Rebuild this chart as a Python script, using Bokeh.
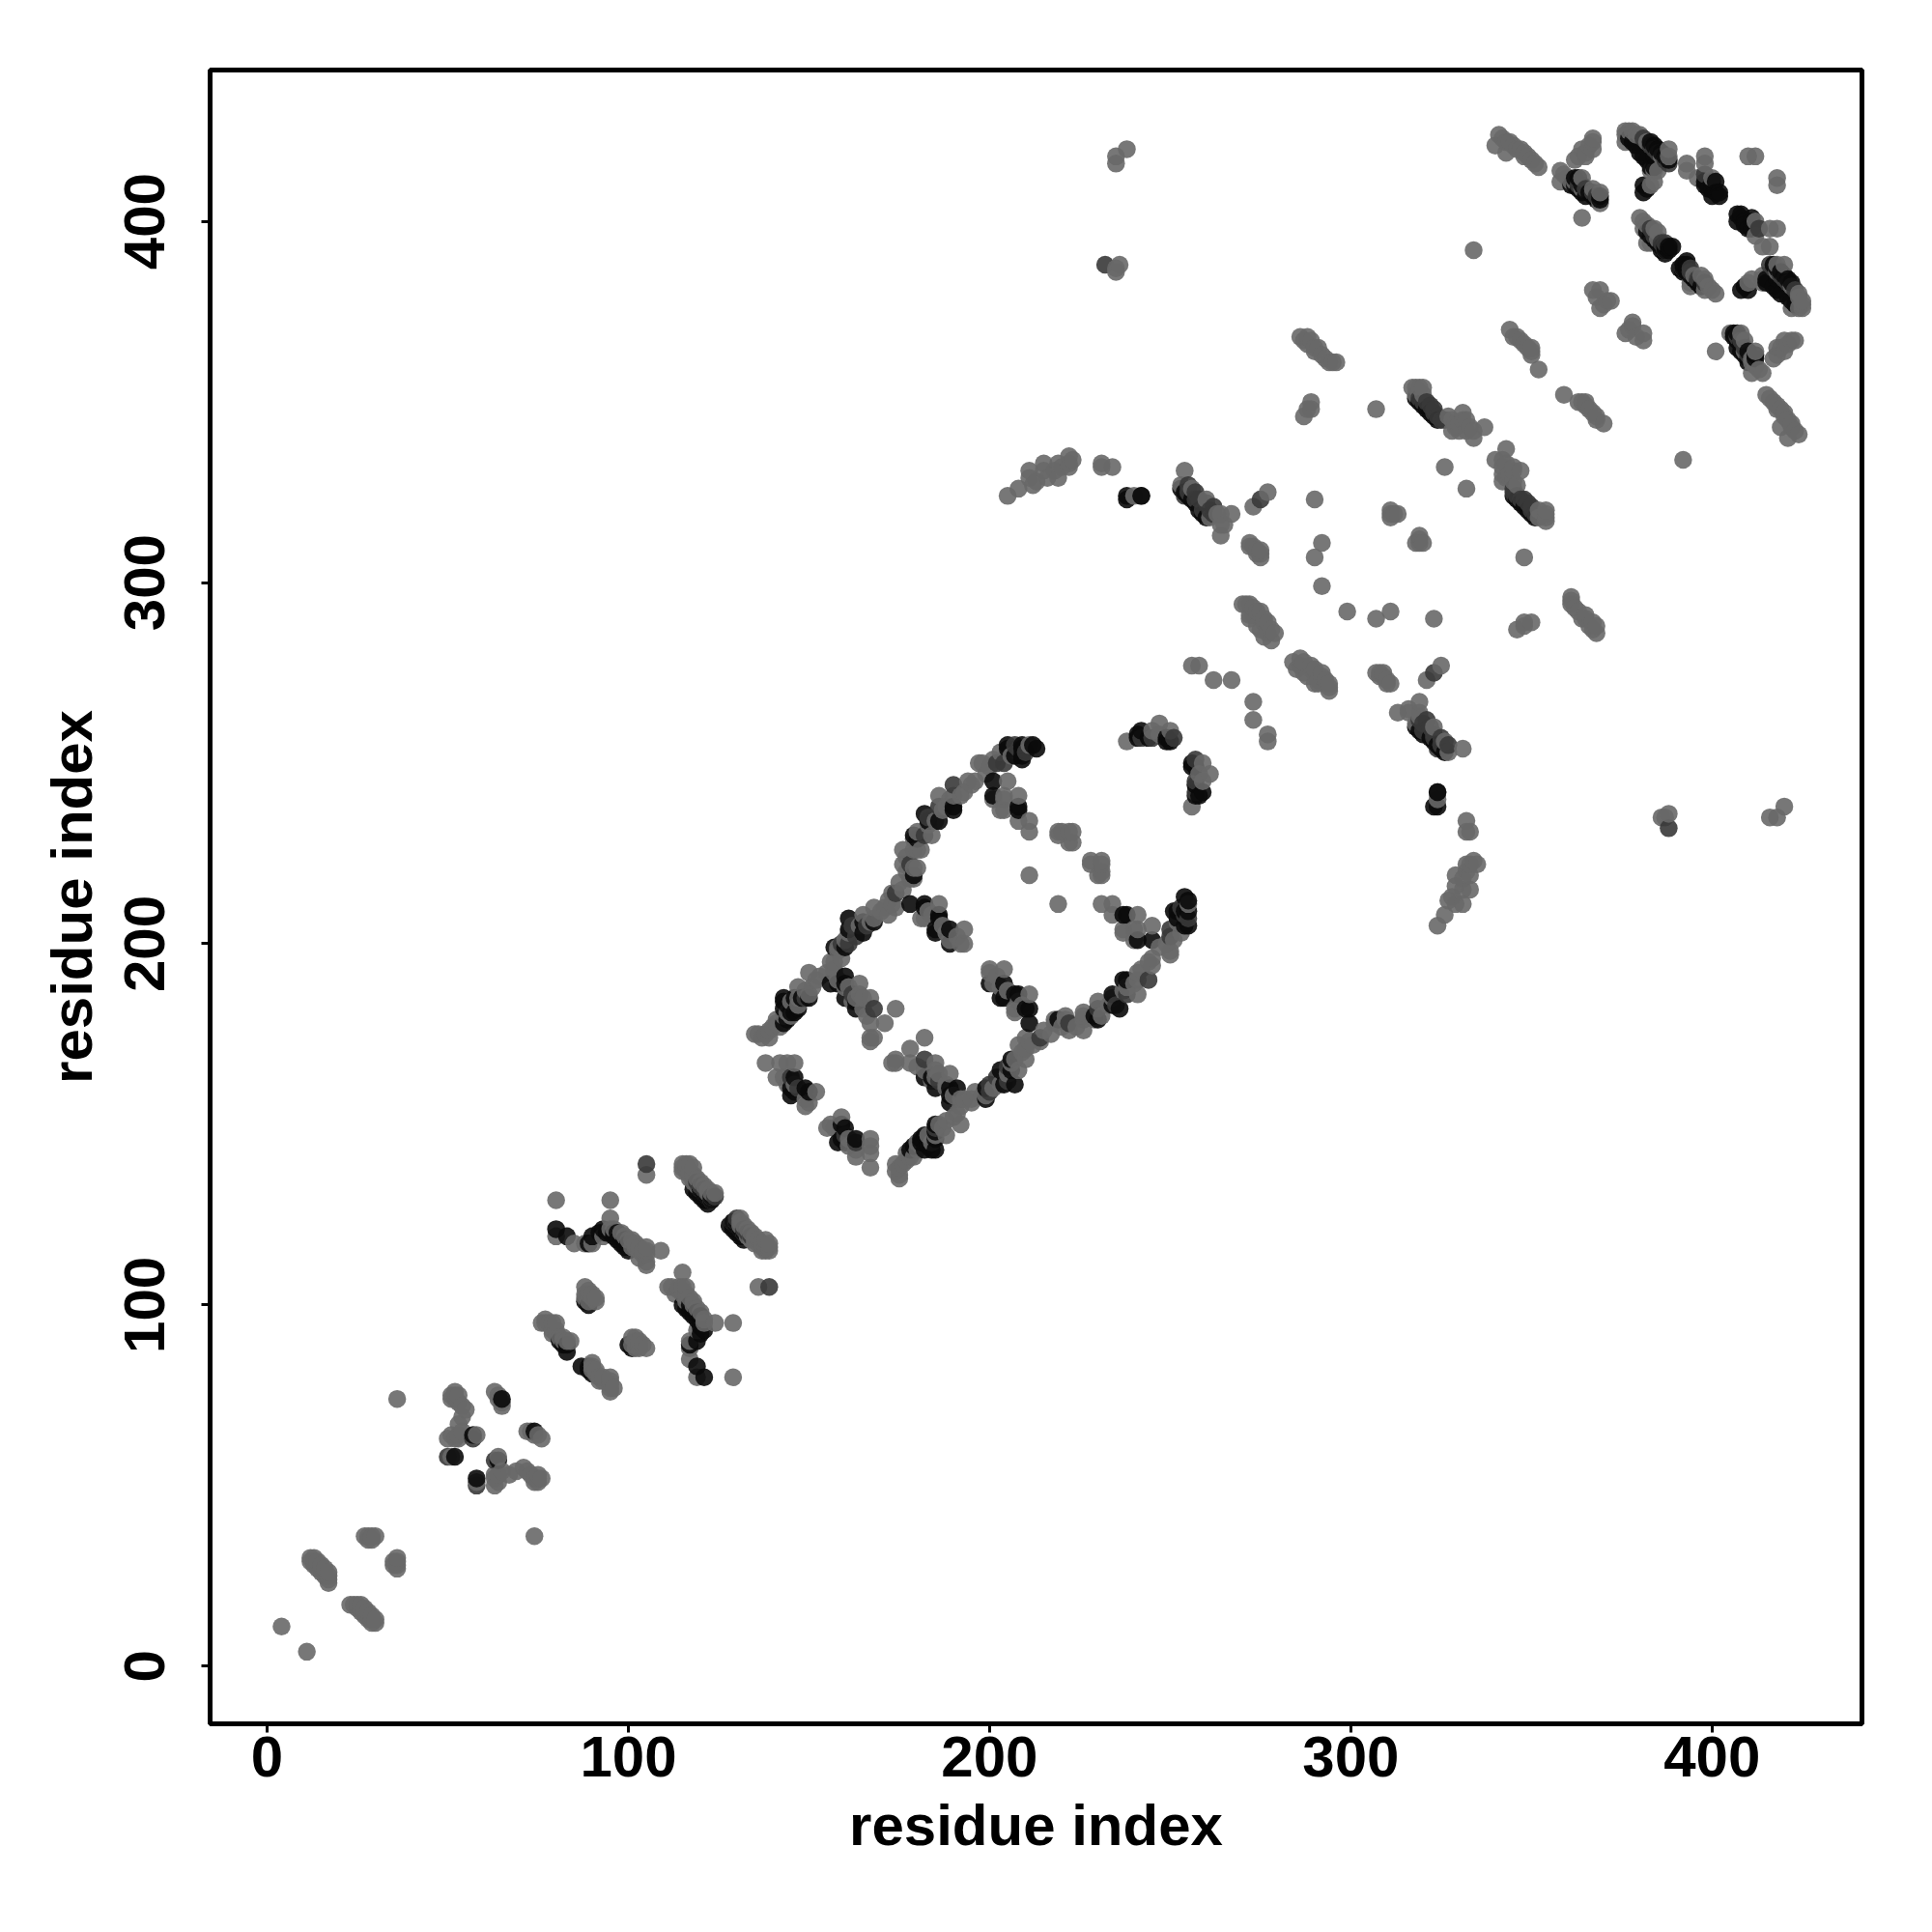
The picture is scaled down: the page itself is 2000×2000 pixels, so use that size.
from collections import Counter
from bokeh.plotting import figure
from bokeh.embed import file_html
from bokeh.resources import INLINE
from bokeh.models import Range1d, FixedTicker, ColumnDataSource

tick_values = [0, 100, 200, 300, 400]
x_label = "residue index"
y_label = "residue index"

# contacts (i, j), i < j; a repeated pair is a darker spot
helix_a = [(4,11),(12,30),(12,29),(13,30),(13,29),(13,28),(14,29),(14,28),(14,27),(15,28),(15,27),(15,26),(16,26),(16,25),(16,27),
           (17,26),(17,25),(17,24),(17,23),(27,36),(28,36),(29,36),(30,36),(28,35),(29,35),(36,74)]
cluster_b = [(52,76),(51,75),(52,75),(53,75),(51,74),(52,74),(53,73),(54,72),(54,69),(55,71),(54,65),(53,67),
             (50,63),(51,64),(52,63),(53,63),(53,64),(57,64),(57,64),(57,63),(57,63),(58,64),
             (50,58),(50,58),(52,58),(52,58),(52,58),(51,58),
             (63,76),(64,75),(64,74),(65,74),(65,74),(65,72),(65,73)]
strand_c = [(76,95),(77,95),(77,96),(78,95),(79,95),(80,95),(79,93),(79,92),(80,92),(80,93),(81,91),(81,90),(81,90),(82,91),(82,90),(82,89),(82,89),(83,90),(83,89),(84,90),
            (88,105),(88,103),(88,102),(88,101),(89,104),(89,103),(89,101),(90,103),(90,102),(91,102),(91,101),
            (80,129),(95,129),(95,124),(105,139),(105,139),(105,136)]
strand_d = [(80,121),(80,121),(80,119),(83,119),(85,117),(88,117),(90,119),(90,119),(90,117),(93,121),(93,121),(93,119),(95,121),(96,121),
            (96,119),(97,120),(97,120),(98,120),(98,119),(98,119),(99,119),(99,118),(100,118),(100,117),(100,117),(101,118),(101,116),(102,117),(102,116),
            (103,116),(103,115),(104,115),(104,114),(105,115),(105,114),(105,112),(105,111),(109,115),(103,113),(105,116)]
strand_e = [(115,139),(116,139),(117,139),(118,138),(115,137),(116,137),(117,136),(118,136),(118,135),(119,135),(119,134),(119,134),(120,133),(120,134),(120,133),
            (121,133),(121,132),(121,132),(122,132),(122,131),(122,130),(122,130),(123,131),(123,130),(124,130),(124,131),(124,130),
            (129,123),(130,123),(130,122),(130,122),(131,122),(131,121),(131,121),(132,121),(132,120),(133,120),(133,119),(134,119),(134,118),(135,118),(135,117),(136,117),(137,117),(137,116),(138,116),(139,116),(139,115),(137,115),(138,115)]
long_strand_f = [(135,175),(136,175),(137,174),(138,175),(139,174),(139,176),(140,177),(141,178),(141,179),(142,177),(143,178),(143,178),(143,180),(144,181),(145,180),(145,184),(146,181),(146,181),(147,183),(147,185),(147,188),(149,185),(149,185),(149,187),(150,186),(151,188),(150,192),
                 (152,190),(153,191),(155,192),(156,195),(157,192),(157,195),(158,199),(158,198),(159,196),(159,200),(159,200),(160,201),(161,200),(161,200),(161,203),(162,205),(162,205),(163,202),(163,202),(164,205),(165,206),(165,208),(166,205),(166,205),(167,206),(168,206),(168,207),(168,210),
                 (170,209),(171,210),(172,208),(172,212),(173,211),(173,214),(174,210),(174,214),(174,214),(175,217),(176,215),(176,222),(176,226),(177,220),(177,224),(178,218),(178,222),(178,222),(179,218),(179,221),(179,226),(179,229),(180,221),(180,226),(180,229),(180,231),(181,226),(182,230),(182,230),
                 (183,233),(183,235),(183,235),(184,230),(185,234),(186,234),(186,238),(186,238),(186,241),(187,237),(188,238),(189,240),(190,238),(190,241),(190,244),(190,244),(192,241),(193,242),(194,245),(195,244),(196,245),(197,250),(198,250),(199,247),(200,249),
                 (201,251),(202,250),(202,250),(203,253),(204,250),(204,250),(205,254),(205,254),(206,252),(207,255),(207,255),(208,254),(208,254),(209,255),(209,255),(210,253),(210,253),(211,255),(212,255)]
strand_g = [(138,167),(142,167),(144,167),(146,167),(141,163),(143,163),(145,163),(145,163),(144,161),(145,160),(145,160),(147,160),(147,160),(149,160),(152,159),(149,155),(150,156),(149,157),(146,161)]
strand_h = [(157,193),(156,189),(158,190),(160,189),(160,189),(160,185),(161,188),(164,189),(163,182),(162,186),(162,186),(163,185),(164,186),(165,185),(167,185),(168,182),(168,182),(174,182),(167,178),(171,178),(167,174),(168,174),(167,173),(160,188),(162,184),(165,182),(166,180)]
strand_i = [(178,211),(182,211),(186,211),(182,207),(181,207),(183,209),(184,208),(186,207),(186,207),(185,203),(185,203),(187,205),(188,203),(189,204),(189,204),(193,204),(193,200),(189,200),(189,200),(191,202),(192,200),(186,208),(189,201)]
strand_j = [(201,245),(205,245),(201,241),(201,240),(204,240),(204,241),(208,241),(204,237),(203,237),(208,238),(208,238),(208,234),(211,234),(211,231),
            (211,219),(219,231),(220,231),(222,231),(223,231),(222,228),(223,228),(219,230)]
block_k = [(205,324),(208,326),(211,329),(211,331),(212,327),(213,328),(215,333),(215,331),(216,329),(219,333),(219,329),(218,331),(220,332),(222,335),(222,333),(222,332),(223,334),(231,333),(231,332),(234,332),(238,324),(238,324),(240,324),(242,324),(242,324),
           (232,388),(232,388),(236,388),(235,386),(235,387),(235,416),(235,418),(238,420),
           (238,256),(242,257),(242,257),(242,259),(242,259),(245,257),(245,257),(245,259),(247,261),(247,258),(249,257),(249,257),(250,256),(250,256),(250,256),(250,259),(251,257),(251,257)]
strand_l = [(254,331),(253,327),(255,327),(255,327),(254,324),(254,324),(255,325),(255,325),(256,326),(257,325),(257,325),(257,323),(257,323),(258,323),(258,323),(259,320),(259,320),(260,323),(260,322),(260,322),(261,320),(261,320),(261,318),(262,321),(262,321),(262,319),(262,319),(263,319),(264,319),(265,316),(264,313),(264,316),(267,319),
            (256,277),(258,277),(262,273),(267,273),(273,321),(275,323),(275,323),(277,325),(290,323),(292,311),(290,307),(292,299),(272,311),(273,310),(274,309),(275,309),(275,307),(274,308),(272,310),(275,308)]
strand_m = [(270,294),(271,294),(272,294),(273,293),(274,292),(275,292),(276,290),(276,289),(277,289),(278,287),(279,286),(278,284),(272,290),(272,291),(274,288),(275,287),(276,285),(277,286),(273,291),
            (286,368),(287,367),(288,368),(288,366),(289,367),(290,365),(290,364),(291,365),(292,363),(293,362),(294,361),(295,361),(296,361),
            (289,348),(289,350),(287,346),(288,348),(307,348),(311,320),(311,319),(312,319),(313,319),(311,318),(319,313),(320,311),(319,311),(326,332)]
strand_n = [(318,354),(317,354),(319,354),(320,354),(318,352),(319,351),(319,351),(320,350),(320,350),(320,352),(321,350),(321,350),(322,349),(322,349),(323,348),(323,348),(323,347),(323,347),(324,346),(324,346),(325,345),(325,345),(326,345),(326,345),(327,346),(328,345),(329,344),(330,344),(331,347),(331,345),(328,342),(329,343),(330,342),(332,342),(333,343),(334,340),(334,342),(337,343),(332,345),
            (334,392),(344,370),(345,368),(346,368),(347,367),(348,366),(349,365),(350,365),(350,364),(350,363),(352,359)]
strand_o = [(341,424),(340,421),(342,423),(343,422),(344,422),(343,419),(345,421),(346,420),(347,420),(348,419),(349,418),(350,417),(351,416),(352,415),(348,418),
            (358,414),(358,411),(359,413),(360,412),(361,411),(362,411),(362,417),(363,418),(363,410),(363,410),(364,409),(364,412),(365,409),(365,409),(365,419),(366,408),(367,409),(367,408),(367,408),(367,422),(364,420),(366,421),(368,407),(368,407),(369,408),(369,407),(369,407),(369,405),(364,401),(365,418),(367,420),(367,423)]
cluster_p = [(367,381),(369,381),(368,379),(372,378),(369,376),(370,377),(371,378),(380,401),(381,400),(381,398),(382,399),(382,397),(383,398),(383,398),(384,396),(384,396),(384,398),(385,395),(385,397),(386,394),(386,394),(387,394),(387,394),(387,393),(383,394),(382,394),
             (376,425),(377,425),(378,425),(379,424),(380,424),(381,423),(381,423),(382,422),(383,421),(383,421),(384,420),(384,420),(385,419),(385,419),(386,418),(387,417),(387,417),(388,416),(388,416),(376,422),(376,424),(378,422),(384,411),(383,410),(381,408),(381,408),(383,414),(385,414),(388,418),(388,420)]
cluster_q = [(393,416),(393,414),(398,418),(398,416),(396,412),(398,413),(398,413),(398,410),(398,410),(400,412),(401,411),(401,411),(401,411),(401,408),(401,408),(401,408),(400,409),(400,409),(410,418),(412,418),(381,410),(384,414),(392,387)]

# contacts that read as the darkest spots
dark_low = [(82,89),(81,90),(83,89),(83,87),(88,101),(89,100),(118,132),(119,131),(120,130),(121,129),(122,129),(123,130),(122,128),(123,129),(122,130),(121,131),(120,132),
            (96,119),(97,118),(98,117),(99,116),(100,115),(95,120),(92,120),(93,121),(90,119),(94,120),(96,120),(100,117),(99,118),(98,119),(97,120),(89,117),(83,119),(80,121),(57,64),(52,58),(65,74)]
dark_mid = [(143,185),(143,184),(144,183),(143,178),(144,179),(146,181),(147,182),(146,185),(148,185),(150,185),(145,181),(143,182),
            (156,189),(160,191),(163,184),(163,182),(160,185),(160,189),(158,189),(145,160),(149,160),(150,159),(146,159),(146,163),(145,158),
            (160,199),(157,199),(168,206),(165,203),(161,204),(161,207),(182,210),(185,204),(186,207),(190,237),(179,230),(182,236),(186,234),
            (205,254),(209,255),(212,255),(209,251),(207,252),(201,245),(201,241),(208,238),(179,219),(178,211),(185,203),(186,208),(189,204),(189,200),
            (208,237),(205,255),(209,254),(213,254),(209,252),(190,238),(183,234),(180,229),(182,211),(165,206)]
dark_high = [(250,256),(249,256),(249,257),(244,257),(241,257),(241,258),(242,259),(238,324),(253,326),(254,325),(255,324),(256,323),(257,322),(258,320),(259,319),(260,318),
             (318,351),(319,350),(320,349),(321,348),(322,347),(323,346),(324,345),(323,238),(324,242),
             (377,423),(378,422),(379,421),(380,419),(381,418),(382,417),(383,415),(384,415),(385,420),(384,418),
             (361,410),(362,410),(363,409),(364,408),(365,407),(366,408),(367,407),(368,406),(369,407),(369,406),(363,412),(362,412),(364,410),
             (398,410),(399,409),(400,409),(401,408),(402,408),(402,407),(400,407),(398,411),(400,411),
             (382,397),(383,396),(384,395),(385,394),(386,393),(387,393),(388,393),(389,393),(388,392),(381,408),(382,409),
             (387,391),(387,392),(386,392),(388,417),(387,418),(386,419),(385,420),(384,421),(383,422),(381,410)]

all_strands = [helix_a, cluster_b, strand_c, strand_d, strand_e, long_strand_f, strand_g, strand_h, strand_i, strand_j,
               block_k, strand_l, strand_m, strand_n, strand_o, cluster_p, cluster_q]
dark_sets = [dark_low, dark_mid, dark_high]
gray_by_count = {1: "#686868", 2: "#383838", 3: "#0a0a0a"}

counts = Counter(c for s in all_strands for c in s)
for s in dark_sets:
    for c in s:
        counts[c] = 3
marks = sorted(set([(i, j, n) for (i, j), n in counts.items()] + [(j, i, n) for (i, j), n in counts.items()]))
source = ColumnDataSource(dict(
    x=[m[0] for m in marks], y=[m[1] for m in marks],
    color=[gray_by_count[min(m[2], 3)] for m in marks]))

p = figure(width=1960, height=1960, output_backend="svg", toolbar_location=None,
           x_range=Range1d(-15.78, 441.5), y_range=Range1d(-15.96, 441.9),
           frame_width=1710, frame_height=1712,
           min_border_left=217, min_border_top=72, min_border_right=20, min_border_bottom=100)
p.scatter("x", "y", source=source, size=18.5, marker="circle",
          fill_color="color", fill_alpha=0.9, line_width=0)

p.grid.visible = False
p.outline_line_color = "black"
p.outline_line_width = 5
p.background_fill_color = "white"
p.border_fill_color = "white"
for ax, lab in ((p.xaxis[0], x_label), (p.yaxis[0], y_label)):
    ax.ticker = FixedTicker(ticks=tick_values)
    ax.axis_line_color = None
    ax.major_tick_in = 0
    ax.major_tick_out = 9
    ax.major_tick_line_width = 3
    ax.major_tick_line_color = "black"
    ax.minor_tick_line_color = None
    ax.major_label_text_font = "Liberation Sans"
    ax.major_label_text_font_style = "bold"
    ax.major_label_text_font_size = "60px"
    ax.major_label_text_color = "black"
    ax.axis_label = lab
    ax.axis_label_text_font = "Liberation Sans"
    ax.axis_label_text_font_style = "bold"
    ax.axis_label_text_font_size = "60px"
    ax.axis_label_text_color = "black"
p.xaxis[0].major_label_standoff = 4
p.xaxis[0].axis_label_standoff = 14
p.yaxis[0].major_label_orientation = "vertical"
p.yaxis[0].major_label_standoff = 38
p.yaxis[0].axis_label_standoff = 19

open("out.html", "w").write(file_html(p, INLINE))
